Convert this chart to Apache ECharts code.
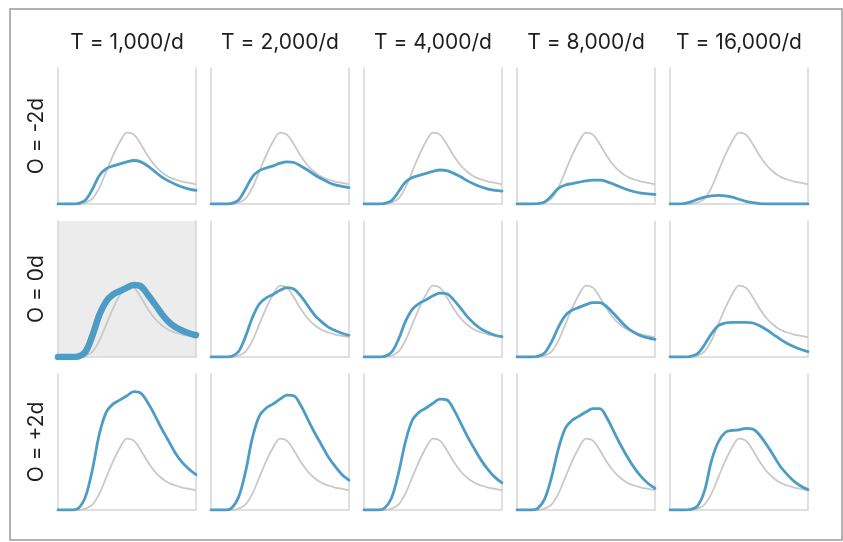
<!DOCTYPE html>
<html>
<head>
<meta charset="utf-8">
<script src="https://cdn.jsdelivr.net/npm/echarts@6/dist/echarts.min.js"></script>
<style>
html,body{margin:0;padding:0;background:#fff;}
#chart{width:843px;height:542px;}
</style>
</head>
<body>
<div id="chart"></div>
<script>
// time steps (21 samples across each panel)
const xs = ['0','1','2','3','4','5','6','7','8','9','10','11','12','13','14','15','16','17','18','19','20'];
const colLabels = ['T = 1,000/d', 'T = 2,000/d', 'T = 4,000/d', 'T = 8,000/d', 'T = 16,000/d'];
const rowLabels = ['O = -2d', 'O = 0d', 'O = +2d'];

// grey reference curve (same in every panel)
const baseline = [0,0,0,0,1,4,12,24,36,46,52.5,51,44,35.5,28.5,23.5,20,18,16.5,15.5,14.5];

// O = -2d row, one array per T column
const rowMinus2T1000  = [0,0,0,0.5,3,11,21,26,28,29.5,31,32,31,28,24,20,17,14.5,12.5,11,10];
const rowMinus2T2000  = [0,0,0,0.5,3,11,20,24.5,26.5,28,30,31,30.5,28,25,21.5,18.5,16,14,13,12];
const rowMinus2T4000  = [0,0,0,0.5,2.5,9,16,19.5,21,22.5,24,25,24.5,22.5,20,17,14.5,12.5,11,10,9.5];
const rowMinus2T8000  = [0,0,0,0.3,1.5,6,11.5,14,15,16,17,17.5,17.5,16.5,14.5,12.5,10.5,9,8,7.5,7];
const rowMinus2T16000 = [0,0,0.3,1.5,3.5,5,6,6.3,6,5,3.5,2,1,0.3,0,0,0,0,0,0,0];

// O = 0d row
const rowZeroT1000  = [0,0,0,0.5,4,16,31,41,46,48.5,51,53,52,46,39,32,26,22,19.5,17.5,16];
const rowZeroT2000  = [0,0,0,0.5,4,15,29,39,43.5,46,49,51,50,45,38,31,26,22,19.5,17.5,16];
const rowZeroT4000  = [0,0,0,0.5,3.5,13,26,35,39.5,42,45,47,46.5,42,36,29.5,24.5,20.5,18,16,15];
const rowZeroT8000  = [0,0,0,0.5,3,11,22,30.5,34.5,36.5,38.5,40,40,37,32,26.5,21.5,18,15.5,14,13];
const rowZeroT16000 = [0,0,0,0.5,2.5,9,17,23,25,25.5,25.5,25.5,25,23,20,16.5,13,10,7.5,5.5,4];

// O = +2d row
const rowPlus2T1000  = [0,0,0,1.5,10,30,56,72,78,81,84,87,86,79,70,60,51,42,35,30,26];
const rowPlus2T2000  = [0,0,0,1.5,9.5,28,53,69,75,78,81.5,84.5,84,77,67,57,48,39,32,26,22];
const rowPlus2T4000  = [0,0,0,1.5,9,27,50,66,72,75,78.5,81.5,81,74,64,54,45,36.5,29.5,24,20];
const rowPlus2T8000  = [0,0,0,1.2,8,24,45,60,66,69,72,74.5,74.5,68,58,48,39,31,24.5,19.5,16];
const rowPlus2T16000 = [0,0,0,0.5,3,14,36,50,57,58.5,59,60,59.5,55,48,40,32,26,21,17.5,15];

const panels = [
  [rowMinus2T1000, rowMinus2T2000, rowMinus2T4000, rowMinus2T8000, rowMinus2T16000],
  [rowZeroT1000, rowZeroT2000, rowZeroT4000, rowZeroT8000, rowZeroT16000],
  [rowPlus2T1000, rowPlus2T2000, rowPlus2T4000, rowPlus2T8000, rowPlus2T16000]
];

const chart = echarts.init(document.getElementById('chart'), null, {renderer: 'canvas'});

const GRID_LEFT = 58, GRID_TOP = 68, PANEL_W = 138, PANEL_H = 136, PITCH_X = 153, PITCH_Y = 153;
const axisCol = '#d6d6d6';
const blue = '#4d9cc6';
const grey = '#c8c8c8';
const FONT = '21px Inter, "Noto Sans", sans-serif';

const grid = [], xAxis = [], yAxis = [], series = [], graphic = [];

for (let r = 0; r < 3; r++) {
  for (let c = 0; c < 5; c++) {
    const i = r * 5 + c;
    const highlighted = (r === 1 && c === 0);
    grid.push({
      left: GRID_LEFT + c * PITCH_X,
      top: GRID_TOP + r * PITCH_Y,
      width: PANEL_W,
      height: PANEL_H,
      show: highlighted,
      backgroundColor: highlighted ? '#ececec' : 'transparent',
      borderWidth: 0
    });
    xAxis.push({
      gridIndex: i, type: 'category', data: xs, boundaryGap: false,
      axisLine: {show: true, lineStyle: {color: axisCol, width: 1.5}},
      axisTick: {show: false}, axisLabel: {show: false}, splitLine: {show: false}
    });
    yAxis.push({
      gridIndex: i, type: 'value', min: 0, max: 100, position: 'left',
      axisLine: {show: true, onZero: false, lineStyle: {color: axisCol, width: 1.5}},
      axisTick: {show: false}, axisLabel: {show: false}, splitLine: {show: false}
    });
    yAxis.push({
      gridIndex: i, type: 'value', min: 0, max: 100, position: 'right',
      axisLine: {show: true, onZero: false, lineStyle: {color: axisCol, width: 1.5}},
      axisTick: {show: false}, axisLabel: {show: false}, splitLine: {show: false}
    });
    series.push({
      type: 'line', xAxisIndex: i, yAxisIndex: i * 2, data: baseline,
      smooth: 0.35, showSymbol: false, silent: true,
      lineStyle: {color: grey, width: 1.8}, z: 2
    });
    series.push({
      type: 'line', xAxisIndex: i, yAxisIndex: i * 2, data: panels[r][c],
      smooth: 0.35, showSymbol: false, silent: true,
      lineStyle: {color: blue, width: highlighted ? 6.5 : 2.8, cap: 'round', join: 'round'}, z: 3
    });
  }
}

// frame
graphic.push({
  type: 'rect', shape: {x: 10, y: 9, width: 832, height: 531},
  style: {fill: 'none', stroke: '#9a9a9a', lineWidth: 1.5}, silent: true
});
// column headers
colLabels.forEach((t, c) => {
  graphic.push({
    type: 'text', x: GRID_LEFT + c * PITCH_X + PANEL_W / 2, y: 43,
    style: {text: t, font: FONT, fill: '#1e1e1e', align: 'center', verticalAlign: 'middle'}
  });
});
// row labels
rowLabels.forEach((t, r) => {
  graphic.push({
    type: 'text', x: 37, y: GRID_TOP + r * PITCH_Y + PANEL_H / 2, rotation: Math.PI / 2,
    style: {text: t, font: FONT, fill: '#1e1e1e', align: 'center', verticalAlign: 'middle'}
  });
});

chart.setOption({
  animation: false,
  grid, xAxis, yAxis, series, graphic
});
</script>
</body>
</html>
